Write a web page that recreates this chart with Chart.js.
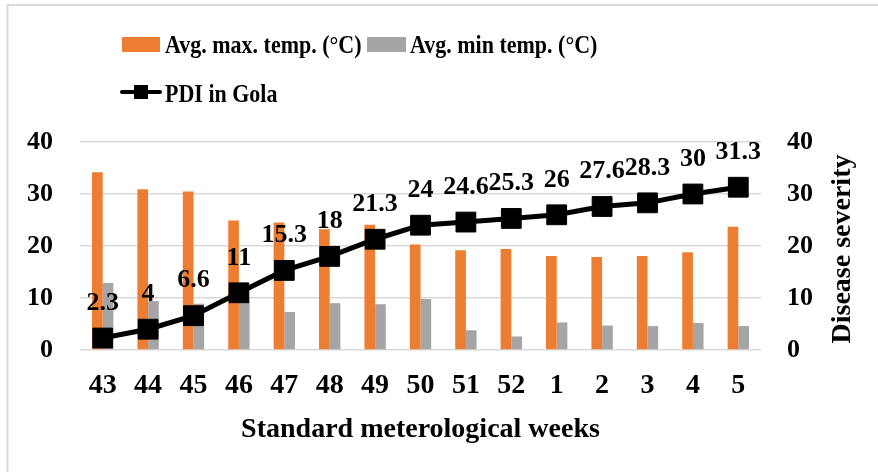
<!DOCTYPE html>
<html>
<head>
<meta charset="utf-8">
<script src="https://cdn.jsdelivr.net/npm/chart.js@4/dist/chart.umd.min.js"></script>
<style>
  html, body { margin: 0; padding: 0; background: #fff; }
  #wrap { position: relative; width: 878px; height: 472px; }
  canvas { display: block; }
</style>
</head>
<body>
<div id="wrap"><canvas id="c" width="878" height="472"></canvas></div>
<script>
const weeks = ["43","44","45","46","47","48","49","50","51","52","1","2","3","4","5"];
const avgMaxTemp = [34.2, 30.9, 30.5, 24.9, 24.5, 23.2, 24.1, 20.3, 19.2, 19.4, 18.1, 17.9, 18.1, 18.8, 23.7];
const avgMinTemp = [12.9, 9.4, 8.9, 9.5, 7.3, 9.0, 8.8, 9.8, 3.8, 2.6, 5.3, 4.7, 4.6, 5.2, 4.6];
const pdiGola = [2.3, 4, 6.6, 11, 15.3, 18, 21.3, 24, 24.6, 25.3, 26, 27.6, 28.3, 30, 31.3];
const seriesNames = ["Avg. max. temp. (\u00B0C)", "Avg. min temp. (\u00B0C)", "PDI in Gola"];
const xTitle = "Standard meterological weeks";
const yRightTitle = "Disease severity";

const FONT = '"Liberation Serif", "Times New Roman", serif';
const ORANGE = '#ED7D31', GRAY = '#A5A5A5';

function tallText(ctx, text, x, y, sy) {
  ctx.save();
  ctx.translate(x, y);
  ctx.scale(1, sy);
  ctx.fillText(text, 0, 0);
  ctx.restore();
}

const extras = {
  id: 'extras',
  afterDatasetsDraw(chart) {
    const ctx = chart.ctx;
    const meta = chart.getDatasetMeta(2);
    ctx.save();
    ctx.font = 'bold 26px ' + FONT;
    ctx.fillStyle = '#000';
    ctx.textAlign = 'center';
    ctx.textBaseline = 'middle';
    meta.data.forEach((pt, i) => {
      ctx.fillText(String(chart.data.datasets[2].data[i]), pt.x, pt.y - 35);
    });
    ctx.restore();
  },
  afterDraw(chart) {
    const ctx = chart.ctx;
    ctx.save();
    // outer border (top & left)
    ctx.strokeStyle = '#d9d9d9';
    ctx.lineWidth = 2;
    ctx.beginPath();
    ctx.moveTo(7.5, 472); ctx.lineTo(7.5, 5); ctx.lineTo(878, 5);
    ctx.stroke();
    // legend
    const ds = chart.data.datasets;
    ctx.font = 'bold 22px ' + FONT;
    ctx.textBaseline = 'alphabetic';
    ctx.textAlign = 'left';
    ctx.fillStyle = ds[0].backgroundColor;
    ctx.fillRect(122, 37, 38, 15);
    ctx.fillStyle = '#000';
    tallText(ctx, ds[0].label, 165, 53, 1.17);
    ctx.fillStyle = ds[1].backgroundColor;
    ctx.fillRect(367, 37, 39, 15);
    ctx.fillStyle = '#000';
    tallText(ctx, ds[1].label, 410, 53, 1.17);
    ctx.strokeStyle = '#000';
    ctx.lineWidth = 4;
    ctx.lineCap = 'round';
    ctx.beginPath(); ctx.moveTo(122, 92); ctx.lineTo(160, 92); ctx.stroke();
    ctx.fillRect(134, 85, 14, 14);
    tallText(ctx, ds[2].label, 165, 101.5, 1.17);
    // right axis title
    ctx.font = 'bold 28px ' + FONT;
    ctx.translate(850, 249);
    ctx.rotate(-Math.PI / 2);
    ctx.textAlign = 'center';
    ctx.fillText(yRightTitle, 0, 0);
    ctx.restore();
  }
};

new Chart(document.getElementById('c'), {
  type: 'bar',
  data: {
    labels: weeks,
    datasets: [
      { type: 'bar', label: seriesNames[0], data: avgMaxTemp, backgroundColor: ORANGE, yAxisID: 'y',
        barPercentage: 1, categoryPercentage: 0.47, order: 2 },
      { type: 'bar', label: seriesNames[1], data: avgMinTemp, backgroundColor: GRAY, yAxisID: 'y',
        barPercentage: 1, categoryPercentage: 0.47, order: 2 },
      { type: 'line', label: seriesNames[2], data: pdiGola, borderColor: '#000', backgroundColor: '#000',
        borderWidth: 5, pointStyle: 'rect', pointRadius: 14, pointBorderWidth: 1,
        pointBackgroundColor: '#000', pointBorderColor: '#000', yAxisID: 'y1', order: 1, tension: 0 }
    ]
  },
  options: {
    responsive: false,
    animation: false,
    devicePixelRatio: 1,
    layout: { padding: { top: 142, left: 10, right: 0, bottom: 0 } },
    plugins: { legend: { display: false }, tooltip: { enabled: false } },
    scales: {
      x: {
        grid: { display: false, drawTicks: false },
        border: { display: false },
        ticks: { color: '#000', font: { family: FONT, size: 28, weight: 'bold' }, padding: 19, maxRotation: 0, autoSkip: false },
        title: { display: true, text: xTitle, color: '#000', font: { family: FONT, size: 28, weight: 'bold' }, padding: { top: 0, bottom: 25 } },
        afterFit(s) { s.height = 122; }
      },
      y: {
        position: 'left', min: 0, max: 40,
        grid: { color: '#d9d9d9', lineWidth: 1.5, drawTicks: false },
        border: { display: false },
        ticks: { stepSize: 10, color: '#000', font: { family: FONT, size: 26, weight: 'bold' }, padding: 27 },
        afterFit(s) { s.width = 70; }
      },
      y1: {
        position: 'right', min: 0, max: 40,
        grid: { display: false, drawTicks: false },
        border: { display: false },
        ticks: { stepSize: 10, color: '#000', font: { family: FONT, size: 26, weight: 'bold' }, padding: 26 },
        afterFit(s) { s.width = 117; }
      }
    }
  },
  plugins: [extras]
});
</script>
</body>
</html>
